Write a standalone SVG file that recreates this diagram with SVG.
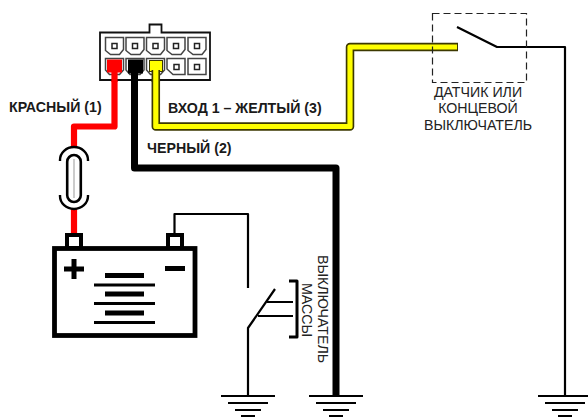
<svg xmlns="http://www.w3.org/2000/svg" width="588" height="417" viewBox="0 0 588 417">
<style>
.bk{fill:none;stroke:#000;stroke-width:2.200}
.cell{fill:#fff;stroke:#444;stroke-width:1.500}
.sq{fill:#fff;stroke:#222;stroke-width:1.500}
.lb{font-family:"Liberation Sans",Arial,sans-serif;font-size:14.200px;fill:#222}
.bd{font-family:"Liberation Sans",Arial,sans-serif;font-size:14.200px;font-weight:bold;fill:#1a1a1a}
</style>
<defs>
<path id="cellshape" d="M0 0H18V12L14 17H5L0 13Z"/>
<g id="gnd" fill="none" stroke="#000" stroke-width="2.200"><path d="M-27 0H27M-20 7H20M-13 14H13M-7 20H7"/></g>
</defs>
<rect width="588" height="417" fill="#fff"/>
<g id="connectors" fill="none" stroke-linejoin="round">
<path d="M114.500 66V126.500H74V147M74 208V235" stroke="#f00" stroke-width="6.200"/>
<path d="M134.500 66V168H336V396" stroke="#000" stroke-width="7"/>
<path d="M155.800 66V126.500H350V47H458" stroke="#3c3800" stroke-width="8.500"/>
<path d="M155.800 66V126.500H350V47H457" stroke="#ff0" stroke-width="5.200"/>
<path class="bk" d="M174.500 233V214H248V288"/>
<path class="bk" d="M248 396V328L275 289"/>
<path class="bk" d="M267 302H293M258 316H293"/>
<path d="M289 281H297V337H289" stroke="#000" stroke-width="3"/>
<path class="bk" d="M457 27L497 47H565V396"/>
</g>
<g id="connector-block">
<path d="M100 32.500H149.500V24.500H161.500V32.500H210V80H100Z" fill="#fff" stroke="#111" stroke-width="1.800"/>
<use href="#cellshape" class="cell" x="105.500" y="37.500"/>
<use href="#cellshape" class="cell" x="126" y="37.500"/>
<use href="#cellshape" class="cell" x="146.500" y="37.500"/>
<use href="#cellshape" class="cell" x="167" y="37.500"/>
<use href="#cellshape" class="cell" x="188" y="37.500"/>
<rect class="sq" x="112" y="43.500" width="5" height="5"/>
<rect class="sq" x="132.500" y="43.500" width="5" height="5"/>
<rect class="sq" x="153" y="43.500" width="5" height="5"/>
<rect class="sq" x="173.500" y="43.500" width="5" height="5"/>
<rect class="sq" x="194.500" y="43.500" width="5" height="5"/>
<path class="cell" d="M105.500 58.500H123.500V70L119.500 74.500H109.500L105.500 70Z"/>
<path class="cell" d="M126 58.500H144V70L140 74.500H130L126 70Z"/>
<path class="cell" d="M146.500 58.500H164.500V70L160.500 74.500H150.500L146.500 70Z"/>
<path class="cell" d="M167 58.500H185V74.500H173L167 69Z"/>
<path class="cell" d="M188 58.500H206V74.500H188Z"/>
<rect class="sq" x="174" y="64.500" width="5" height="5"/>
<rect class="sq" x="194.500" y="64.500" width="5" height="5"/>
<rect x="107" y="59.500" width="15" height="13" fill="#f00"/>
<rect x="111.400" y="72" width="6.200" height="10" fill="#f00"/>
<rect x="128" y="59.500" width="15" height="14" fill="#000"/>
<rect x="131" y="72" width="7" height="10" fill="#000"/>
<rect x="149.500" y="60.500" width="13" height="11" fill="#ff0" stroke="#3c3800"/>
<path d="M155.800 70V82" stroke="#3c3800" stroke-width="8.500"/>
<path d="M155.800 68V82" stroke="#ff0" stroke-width="5.200"/>
</g>
<g id="fuse" fill="none" stroke="#000">
<rect x="67.200" y="155" width="13.600" height="47" rx="6.800" fill="#fff" stroke-width="2.600"/>
<path d="M74 159V198" stroke="#bbb" stroke-width="1.500"/>
<path d="M60 161V160A14 13 0 0 1 88 160V161M60 195V196A14 13 0 0 0 88 196V195" stroke-width="2.400"/>
</g>
<g id="battery">
<rect x="54.500" y="248.500" width="140.500" height="87" fill="#fff" stroke="#000" stroke-width="4.800"/>
<rect x="67" y="235" width="14" height="13" fill="#fff" stroke="#000" stroke-width="4"/>
<rect x="168" y="235" width="14" height="13" fill="#fff" stroke="#000" stroke-width="4"/>
<path d="M64 269H84M74 259V279M165 268.500H185" stroke="#000" stroke-width="5" fill="none"/>
<path d="M105 275.500H144M105 294H144M105 313H144" stroke="#000" stroke-width="5" fill="none"/>
<path d="M94 285H155M94 303.500H155M94 322.500H155" stroke="#000" stroke-width="3" fill="none"/>
</g>
<g id="switch-box"><rect x="432.500" y="13.500" width="94" height="69" fill="none" stroke="#222" stroke-width="1.200" stroke-dasharray="7 4"/></g>
<g id="grounds">
<use href="#gnd" x="248" y="396"/>
<use href="#gnd" x="336" y="396"/>
<use href="#gnd" x="565" y="396"/>
</g>
<g id="labels">
<text class="bd" x="9" y="112">КРАСНЫЙ (1)</text>
<text class="bd" x="168" y="113">ВХОД 1 – ЖЕЛТЫЙ (3)</text>
<text class="bd" x="147" y="153">ЧЕРНЫЙ (2)</text>
<text class="lb" x="478" y="97" text-anchor="middle">ДАТЧИК ИЛИ</text>
<text class="lb" x="478" y="113" text-anchor="middle">КОНЦЕВОЙ</text>
<text class="lb" x="478" y="130" text-anchor="middle">ВЫКЛЮЧАТЕЛЬ</text>
<text class="lb" transform="translate(318 255) rotate(90)">ВЫКЛЮЧАТЕЛЬ</text>
<text class="lb" transform="translate(301.500 283) rotate(90)">МАССЫ</text>
</g>
</svg>
